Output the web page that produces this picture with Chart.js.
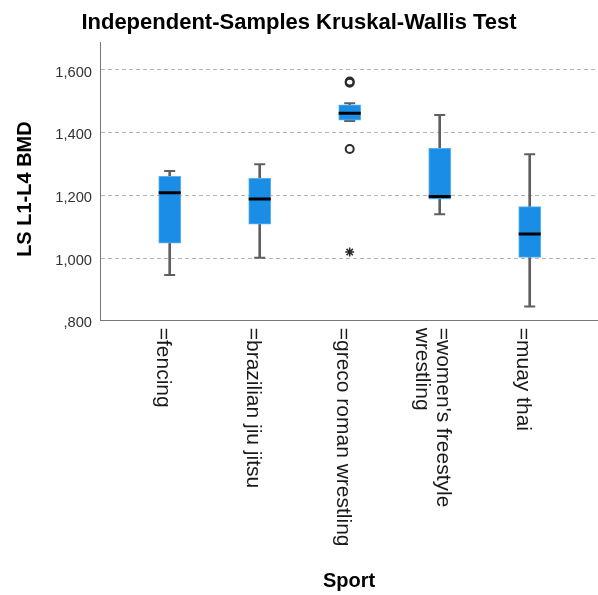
<!DOCTYPE html>
<html>
<head>
<meta charset="utf-8">
<script src="https://cdn.jsdelivr.net/npm/chart.js@4/dist/chart.umd.min.js"></script>
<style>
  html, body { margin: 0; padding: 0; background: #ffffff; }
  canvas { display: block; }
</style>
</head>
<body>
<canvas id="chart" width="598" height="595"></canvas>
<script>
// Sport groups (label lines as shown under the axis)
const categories = [
  ['=fencing'],
  ['=brazilian jiu jitsu'],
  ['=greco roman wrestling'],
  ["=women's freestyle", 'wrestling'],
  ['=muay thai']
];

// Box-plot summaries of LS L1-L4 BMD per sport
const whiskerLow  = [0.946, 1.001, 1.437, 1.140, 0.845];
const quartile1   = [1.047, 1.108, 1.440, 1.188, 1.002];
const medians     = [1.208, 1.188, 1.462, 1.196, 1.077];
const quartile3   = [1.261, 1.254, 1.489, 1.350, 1.164];
const whiskerHigh = [1.278, 1.299, 1.494, 1.456, 1.331];

// Outliers (circles) and extreme values (stars): group index, value
const outlierGroups = [2, 2, 2];
const outlierValues = [1.563, 1.559, 1.348];
const extremeGroups = [2];
const extremeValues = [1.019];

// Y axis ticks
const yTickValues = [0.8, 1.0, 1.2, 1.4, 1.6];
const yTickLabels = [',800', '1,000', '1,200', '1,400', '1,600'];
const yAxisTitle = 'LS L1-L4 BMD';

const FONT = '"Liberation Sans", Arial, Helvetica, sans-serif';
const positions = categories.map((_, i) => i + 1);

const boxBlue = '#1a8ee6';
const boxEdge = '#5db0f0';
const whiskerGray = '#5f5f5f';

// Vertical, top-to-bottom category names under the x axis, plus the y axis title
const axisText = {
  id: 'axisText',
  afterDraw(chart) {
    const { ctx, scales: { x, y } } = chart;
    ctx.save();
    ctx.font = '21px ' + FONT;
    ctx.fillStyle = '#1a1a1a';
    ctx.textAlign = 'left';
    ctx.textBaseline = 'middle';
    const lineGap = 21;
    categories.forEach((lines, i) => {
      const px = x.getPixelForValue(positions[i]) - 7;
      ctx.save();
      ctx.translate(px, x.top + 7);
      ctx.rotate(Math.PI / 2);
      lines.forEach((line, j) => {
        ctx.fillText(line, 0, (j - (lines.length - 1) / 2) * lineGap);
      });
      ctx.restore();
    });

    ctx.font = 'bold 20px ' + FONT;
    ctx.fillStyle = '#000000';
    ctx.textAlign = 'center';
    ctx.save();
    ctx.translate(25, y.getPixelForValue(1.22));
    ctx.rotate(-Math.PI / 2);
    ctx.fillText(yAxisTitle, 0, 0);
    ctx.restore();
    ctx.restore();
  }
};

new Chart(document.getElementById('chart'), {
  type: 'bar',
  data: {
    datasets: [
      {
        type: 'scatter',
        label: 'median',
        order: 0,
        data: positions.map((p, i) => ({ x: p, y: medians[i] })),
        pointStyle: 'line',
        radius: 11,
        borderWidth: 3,
        borderColor: '#000000'
      },
      {
        type: 'scatter',
        label: 'outliers',
        order: 0,
        data: outlierGroups.map((g, i) => ({ x: positions[g], y: outlierValues[i] })),
        pointStyle: 'circle',
        radius: 4,
        borderWidth: 2,
        borderColor: '#2b2b2b',
        backgroundColor: 'rgba(255,255,255,0)'
      },
      {
        type: 'scatter',
        label: 'extremes',
        order: 0,
        data: extremeGroups.map((g, i) => ({ x: positions[g], y: extremeValues[i] })),
        pointStyle: 'star',
        radius: 4.5,
        borderWidth: 1.5,
        borderColor: '#2b2b2b'
      },
      {
        label: 'box',
        order: 1,
        grouped: false,
        data: positions.map((p, i) => ({ x: p, y: [quartile1[i], quartile3[i]] })),
        backgroundColor: boxBlue,
        borderColor: boxEdge,
        borderWidth: 1,
        borderSkipped: false,
        barThickness: 22
      },
      {
        type: 'scatter',
        label: 'caps',
        order: 2,
        data: positions.flatMap((p, i) => [{ x: p, y: whiskerLow[i] }, { x: p, y: whiskerHigh[i] }]),
        pointStyle: 'line',
        radius: 5.5,
        borderWidth: 2,
        borderColor: whiskerGray
      },
      {
        label: 'lower whisker',
        order: 3,
        grouped: false,
        data: positions.map((p, i) => ({ x: p, y: [whiskerLow[i], quartile1[i]] })),
        backgroundColor: whiskerGray,
        barThickness: 2
      },
      {
        label: 'upper whisker',
        order: 3,
        grouped: false,
        data: positions.map((p, i) => ({ x: p, y: [quartile3[i], whiskerHigh[i]] })),
        backgroundColor: whiskerGray,
        barThickness: 2
      }
    ]
  },
  options: {
    responsive: false,
    animation: false,
    events: [],
    layout: { padding: 0, autoPadding: false },
    plugins: {
      legend: { display: false },
      tooltip: { enabled: false },
      title: {
        display: true,
        text: 'Independent-Samples Kruskal-Wallis Test',
        color: '#000000',
        font: { family: FONT, size: 22, weight: 'bold', lineHeight: 1.2 },
        padding: { top: 10, bottom: 6.3 }
      }
    },
    scales: {
      x: {
        type: 'linear',
        min: 0.2256,
        max: 5.7589,
        offset: false,
        grid: { display: false, offset: false },
        border: { display: true, color: '#777777', width: 1 },
        ticks: { display: false },
        title: {
          display: true,
          text: 'Sport',
          color: '#000000',
          font: { family: FONT, size: 20, weight: 'bold', lineHeight: 1.2 },
          padding: { top: 0, bottom: 2 }
        },
        afterFit(scale) { scale.height = 274.3; }
      },
      y: {
        type: 'linear',
        min: 0.8,
        max: 1.687,
        afterBuildTicks(scale) {
          scale.ticks = yTickValues.map(v => ({ value: v }));
        },
        ticks: {
          callback: (value, index) => yTickLabels[index],
          color: '#333333',
          font: { family: FONT, size: 14.7 },
          padding: 8,
          labelOffset: 2.5
        },
        grid: {
          drawTicks: false,
          lineWidth: 1,
          color: (c) => (c.tick && c.tick.value > 0.8 ? '#b5b5b5' : 'rgba(0,0,0,0)')
        },
        border: { display: true, color: '#777777', width: 1, dash: [4, 3] },
        title: { display: false },
        afterFit(scale) { scale.width = 100; }
      }
    }
  },
  plugins: [axisText]
});
</script>
</body>
</html>
